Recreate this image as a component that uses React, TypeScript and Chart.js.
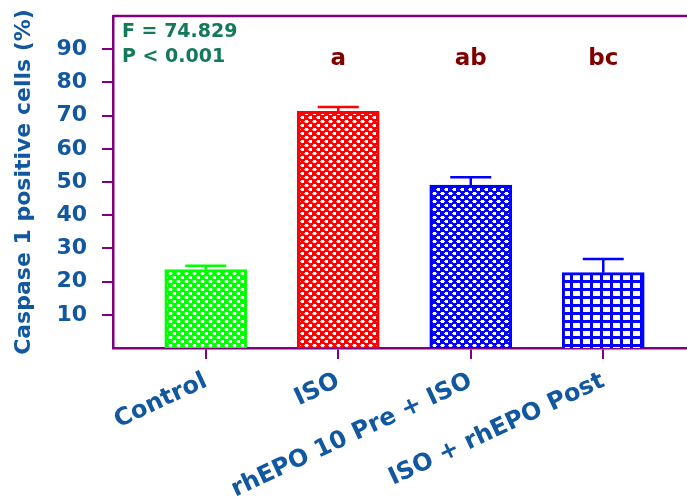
import React, { useEffect, useRef } from 'react';
import { Chart, registerables } from 'chart.js';

Chart.register(...registerables);

const categories = ['Control', 'ISO', 'rhEPO 10 Pre + ISO', 'ISO + rhEPO Post'];
const means = [23.6, 71.3, 49.1, 22.7];
const errors = [1.2, 1.3, 2.3, 4.1];
const sigLetters = ['', 'a', 'ab', 'bc'];
const yTicks = [10, 20, 30, 40, 50, 60, 70, 80, 90];
const statLines = ['F = 74.829', 'P < 0.001'];
const barColors = ['#00ff00', '#ff0000', '#0000ff', '#0000ff'];
const fillKinds = ['diamond', 'diamond', 'diamond', 'grid'];

const AXIS = '#800080';
const LABEL = '#1258a0';
const FONT = 'DejaVu Sans';

function makePattern(color: string, kind: string): CanvasPattern | string {
  const c = document.createElement('canvas');
  const g = c.getContext('2d');
  if (!g) return color;
  if (kind === 'grid') {
    c.width = 10;
    c.height = 8;
    g.fillStyle = '#ffffff';
    g.fillRect(0, 0, 10, 8);
    g.fillStyle = color;
    g.fillRect(0, 0, 3, 8);
    g.fillRect(0, 0, 10, 3);
  } else {
    c.width = 8;
    c.height = 8;
    g.fillStyle = color;
    g.fillRect(0, 0, 8, 8);
    g.fillStyle = '#ffffff';
    const hole = (cx: number, cy: number) => {
      g.fillRect(cx - 1, cy - 1, 3, 1);
      g.fillRect(cx - 2, cy, 5, 1);
      g.fillRect(cx - 1, cy + 1, 3, 1);
    };
    hole(2, 1);
    hole(6, 5);
  }
  return g.createPattern(c, 'repeat') || color;
}

const errorBarPlugin = {
  id: 'errorBars',
  afterDatasetsDraw(chart: any) {
    const { ctx, scales } = chart;
    const x = scales.x;
    const y = scales.y;
    ctx.save();
    means.forEach((m, i) => {
      const px = x.getPixelForValue(i);
      const base = y.getPixelForValue(m);
      const top = y.getPixelForValue(m + errors[i]);
      ctx.strokeStyle = barColors[i];
      ctx.lineWidth = 2.5;
      ctx.beginPath();
      ctx.moveTo(px, base);
      ctx.lineTo(px, top);
      ctx.moveTo(px - 20.5, top);
      ctx.lineTo(px + 20.5, top);
      ctx.stroke();
    });
    ctx.restore();
  },
};

const annotationPlugin = {
  id: 'annotations',
  afterDraw(chart: any) {
    const { ctx, chartArea, scales } = chart;
    ctx.save();
    // top frame line
    ctx.strokeStyle = AXIS;
    ctx.lineWidth = 2.5;
    ctx.beginPath();
    ctx.moveTo(chartArea.left, chartArea.top);
    ctx.lineTo(chartArea.right, chartArea.top);
    ctx.stroke();
    // significance letters
    ctx.fillStyle = '#800000';
    ctx.font = `bold 23px "${FONT}"`;
    ctx.textAlign = 'center';
    ctx.textBaseline = 'alphabetic';
    sigLetters.forEach((s, i) => {
      if (!s) return;
      ctx.fillText(s, scales.x.getPixelForValue(i), chartArea.top + 49);
    });
    // statistics
    ctx.fillStyle = '#12795a';
    ctx.font = `bold 19px "${FONT}"`;
    ctx.textAlign = 'left';
    statLines.forEach((s, i) => {
      ctx.fillText(s, chartArea.left + 9, chartArea.top + 21 + i * 25);
    });
    ctx.restore();
  },
};

export default function App() {
  const ref = useRef<HTMLCanvasElement | null>(null);

  useEffect(() => {
    document.body.style.margin = '0';
    const canvas = ref.current;
    if (!canvas) return;
    const fills = barColors.map((c, i) => makePattern(c, fillKinds[i]));
    const chart = new Chart(canvas, {
      type: 'bar',
      data: {
        datasets: [
          {
            data: means.map((v, i) => ({ x: i, y: v })),
            backgroundColor: fills as any,
            borderColor: barColors,
            borderWidth: 3,
            barThickness: 82,
          },
        ],
      },
      options: {
        responsive: false,
        animation: false,
        devicePixelRatio: 1,
        layout: { padding: { top: 16, right: 0, left: 0, bottom: 0 } },
        plugins: {
          legend: { display: false },
          tooltip: { enabled: false },
        },
        scales: {
          x: {
            type: 'linear',
            min: -0.7,
            max: 3.632,
            offset: false,
            afterBuildTicks: (scale: any) => {
              scale.ticks = categories.map((_, i) => ({ value: i }));
            },
            afterFit: (scale: any) => {
              scale.height = 151;
              scale.paddingLeft = 0;
              scale.paddingRight = 0;
            },
            grid: {
              offset: false,
              drawOnChartArea: false,
              drawTicks: true,
              tickLength: 11,
              color: AXIS,
              lineWidth: 2,
            },
            border: { display: true, color: AXIS, width: 2.5 },
            ticks: {
              autoSkip: false,
              maxRotation: 25,
              minRotation: 25,
              padding: 8,
              color: LABEL,
              font: { family: FONT, size: 24, weight: 'bold' },
              callback: (v: any) => categories[Number(v)] ?? '',
            },
          },
          y: {
            min: 0,
            max: 100,
            afterBuildTicks: (scale: any) => {
              scale.ticks = yTicks.map((v) => ({ value: v }));
            },
            afterFit: (scale: any) => {
              scale.width = 113;
              scale.paddingTop = 0;
              scale.paddingBottom = 0;
            },
            grid: {
              drawOnChartArea: false,
              drawTicks: true,
              tickLength: 11,
              color: AXIS,
              lineWidth: 2,
            },
            border: { display: true, color: AXIS, width: 2.5 },
            ticks: {
              padding: 15,
              color: LABEL,
              font: { family: FONT, size: 22, weight: 'bold' },
            },
            title: {
              display: true,
              text: 'Caspase 1 positive cells (%)',
              color: LABEL,
              font: { family: FONT, size: 22, weight: 'bold' },
              padding: { top: 11, bottom: 0 },
            },
          },
        },
      },
      plugins: [errorBarPlugin, annotationPlugin],
    });
    return () => chart.destroy();
  }, []);

  return <canvas ref={ref} width={687} height={499} style={{ display: 'block' }} />;
}
